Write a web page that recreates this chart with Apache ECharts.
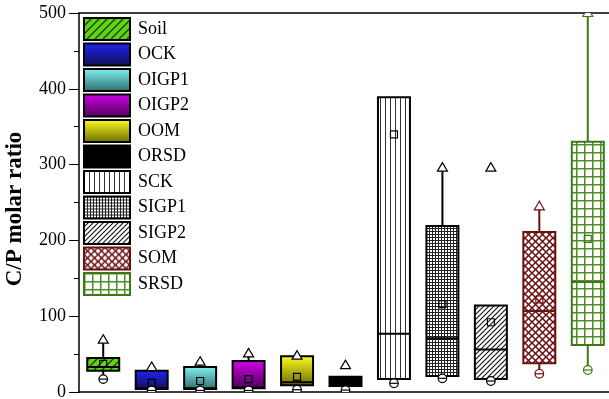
<!DOCTYPE html>
<html>
<head>
<meta charset="utf-8">
<script src="https://cdn.jsdelivr.net/npm/echarts@6/dist/echarts.min.js"></script>
<style>
  html, body { margin: 0; padding: 0; background: #fff; }
  #chart { width: 609px; height: 399px; }
</style>
</head>
<body>
<div id="chart"></div>
<script>
// C/P molar ratio per sample group: box statistics
const categories  = ['Soil', 'OCK', 'OIGP1', 'OIGP2', 'OOM', 'ORSD', 'SCK', 'SIGP1', 'SIGP2', 'SOM', 'SRSD'];
const whiskerLow  = [17, 2, 2, 2, 3, 2.5, 12, 18, 14.5, 24, 29];
const q1          = [28, 4, 4, 5, 9, 8, 17, 21, 17, 38, 62];
const median      = [33, 5, 5, 6, 13, 13.5, 77, 71, 56, 107, 145];
const q3          = [45, 28, 33, 41, 47, 20, 389, 219, 114, 211, 330];
const whiskerHigh = [69, 33, 40, 51, 47, 20, 389, 296, 114, 245, 500];
const meanVal     = [37, 12, 14.5, 17, 20, 14, 340, 116, 92, 122, 202];
const minVal      = [17, 2, 2, 2, 3, 2.5, 11.5, 18, 14.5, 24, 29];
const maxVal      = [69, 33, 40, 51, 48, 35.5, null, 296, 296, 245, 500];
const yTicks      = [0, 100, 200, 300, 400, 500];

const SERIF = "'Liberation Serif', 'Times New Roman', serif";

// ---- fill patterns -------------------------------------------------------
function tile(w, h, draw) {
  const c = document.createElement('canvas');
  c.width = w; c.height = h;
  draw(c.getContext('2d'), w, h);
  return { image: c, repeat: 'repeat' };
}
function diagLines(ctx, s, color, lw, dir) {
  ctx.strokeStyle = color; ctx.lineWidth = lw;
  ctx.beginPath();
  if (dir > 0) { // "/"
    ctx.moveTo(0, s); ctx.lineTo(s, 0);
    ctx.moveTo(-2, 2); ctx.lineTo(2, -2);
    ctx.moveTo(s - 2, s + 2); ctx.lineTo(s + 2, s - 2);
  } else {       // "\"
    ctx.moveTo(0, 0); ctx.lineTo(s, s);
    ctx.moveTo(s - 2, -2); ctx.lineTo(s + 2, 2);
    ctx.moveTo(-2, s - 2); ctx.lineTo(2, s + 2);
  }
  ctx.stroke();
}
const soilFill = tile(8, 8, (ctx, w, h) => {
  ctx.fillStyle = '#5fd414'; ctx.fillRect(0, 0, w, h);
  diagLines(ctx, 8, '#1f3a08', 1.3, 1);
});
const sckFill = tile(5, 5, (ctx, w, h) => {
  ctx.fillStyle = '#fff'; ctx.fillRect(0, 0, w, h);
  ctx.fillStyle = '#333'; ctx.fillRect(0, 0, 1, h);
});
const sigp1Fill = tile(3, 3, (ctx, w, h) => {
  ctx.fillStyle = '#fff'; ctx.fillRect(0, 0, w, h);
  ctx.fillStyle = '#222'; ctx.fillRect(0, 0, w, 1); ctx.fillRect(0, 0, 1, h);
});
const sigp2Fill = tile(5, 5, (ctx, w, h) => {
  ctx.fillStyle = '#fff'; ctx.fillRect(0, 0, w, h);
  diagLines(ctx, 5, '#111', 1.1, 1);
});
const somFill = tile(7, 7, (ctx, w, h) => {
  ctx.fillStyle = '#fff'; ctx.fillRect(0, 0, w, h);
  diagLines(ctx, 7, '#6a1010', 1.5, 1);
  diagLines(ctx, 7, '#6a1010', 1.5, -1);
});
const srsdFill = tile(8, 8, (ctx, w, h) => {
  ctx.fillStyle = '#fff'; ctx.fillRect(0, 0, w, h);
  ctx.fillStyle = '#4f8f28'; ctx.fillRect(0, 0, w, 1.5); ctx.fillRect(0, 0, 1.5, h);
});
function vgrad(top, bottom) {
  return { type: 'linear', x: 0, y: 0, x2: 0, y2: 1,
           colorStops: [{ offset: 0, color: top }, { offset: 1, color: bottom }] };
}

// fill / outline per group
const fills = [
  soilFill,
  vgrad('#2323f5', '#0e0e55'),
  vgrad('#86f4f4', '#2b6b6b'),
  vgrad('#d400ea', '#4a0058'),
  vgrad('#ffff22', '#6a6a00'),
  '#000000',
  sckFill, sigp1Fill, sigp2Fill, somFill, srsdFill
];
const outlines = ['#000', '#000', '#000', '#000', '#000', '#000', '#000', '#000', '#000', '#6b0f0f', '#3c7a14'];

// ---- box renderer --------------------------------------------------------
function renderBox(params, api) {
  const i = api.value(0);
  const x = api.coord([i, 0])[0];
  const bw = api.size([1, 0])[0] * 0.66;
  const y = v => api.coord([i, v])[1];
  const wl = api.value(1), b1 = api.value(2), md = api.value(3), b3 = api.value(4),
        wh = api.value(5), mn = api.value(6), lo = api.value(7), hi = api.value(8);
  const col = outlines[i];
  const kids = [];
  kids.push({ type: 'line', shape: { x1: x, y1: y(b3), x2: x, y2: y(wh) },
              style: { stroke: col, lineWidth: 2 } });
  kids.push({ type: 'line', shape: { x1: x, y1: y(b1), x2: x, y2: y(wl) },
              style: { stroke: col, lineWidth: 2 } });
  kids.push({ type: 'rect', shape: { x: x - bw / 2, y: y(b3), width: bw, height: y(b1) - y(b3) },
              style: { fill: fills[i], stroke: col, lineWidth: 2 } });
  kids.push({ type: 'line', shape: { x1: x - bw / 2, y1: y(md), x2: x + bw / 2, y2: y(md) },
              style: { stroke: col, lineWidth: 2 } });
  if (!isNaN(mn)) {
    const ym = y(mn);
    kids.push({ type: 'rect', shape: { x: x - 3.5, y: ym - 3.5, width: 7, height: 7 },
                style: { fill: 'none', stroke: col, lineWidth: 1.2 } });
  }
  if (!isNaN(hi)) {
    const yh = y(hi);
    kids.push({ type: 'polygon', shape: { points: [[x, yh - 5], [x - 5, yh + 3.5], [x + 5, yh + 3.5]] },
                style: { fill: '#fff', stroke: col, lineWidth: 1.2 } });
  }
  if (!isNaN(lo)) {
    const yl = y(lo);
    kids.push({ type: 'circle', shape: { cx: x, cy: yl, r: 4.3 },
                style: { fill: '#fff', stroke: col, lineWidth: 1.2 } });
    kids.push({ type: 'line', shape: { x1: x - 4.3, y1: yl, x2: x + 4.3, y2: yl },
                style: { stroke: col, lineWidth: 1.2 } });
  }
  return { type: 'group', children: kids };
}

const series = categories.map((name, i) => ({
  name: name,
  type: 'custom',
  clip: true,
  renderItem: renderBox,
  encode: { x: 0, y: [1, 2, 3, 4, 5, 6, 7, 8] },
  itemStyle: { color: fills[i], borderColor: outlines[i], borderWidth: 2 },
  data: [[i, whiskerLow[i], q1[i], median[i], q3[i], whiskerHigh[i], meanVal[i], minVal[i],
          maxVal[i] === null ? '-' : maxVal[i]]]
}));

const chart = echarts.init(document.getElementById('chart'), null, { renderer: 'canvas' });
chart.setOption({
  animation: false,
  backgroundColor: '#fff',
  grid: { left: 79, top: 13, width: 533, height: 379, outerBoundsMode: 'none', containLabel: false },
  legend: {
    data: categories,
    orient: 'vertical',
    left: 78, top: 12,
    icon: 'rect',
    itemWidth: 46, itemHeight: 22, itemGap: 1.5,
    selectedMode: false,
    itemStyle: { borderWidth: 2 },
    textStyle: { fontFamily: SERIF, fontSize: 18, lineHeight: 20, color: '#000', padding: [0, 0, 0, 3] }
  },
  xAxis: [{
    type: 'category',
    data: categories,
    position: 'bottom',
    axisLine: { lineStyle: { color: '#000', width: 1.5 } },
    axisTick: { alignWithLabel: true, length: 4, lineStyle: { color: '#000' } },
    axisLabel: { show: false },
    splitLine: { show: false }
  }, {
    type: 'category',
    data: categories,
    position: 'top',
    axisLine: { lineStyle: { color: '#000', width: 1.5 } },
    axisTick: { alignWithLabel: true, inside: true, length: 3, lineStyle: { color: '#888' } },
    axisLabel: { show: false }
  }],
  yAxis: {
    type: 'value',
    min: yTicks[0], max: yTicks[yTicks.length - 1], interval: 100,
    name: 'C/P molar ratio',
    nameLocation: 'middle',
    nameGap: 52,
    nameTextStyle: { fontFamily: SERIF, fontSize: 23, fontWeight: 'bold', color: '#000', padding: [0, 13, 0, 0] },
    axisLine: { show: true, lineStyle: { color: '#000', width: 1.5 } },
    axisTick: { show: true, length: 10, lineStyle: { color: '#000' } },
    minorTick: { show: true, splitNumber: 2, length: 5, lineStyle: { color: '#000' } },
    axisLabel: { fontFamily: SERIF, fontSize: 18, color: '#000', margin: 13 },
    splitLine: { show: false }
  },
  series: series
});
</script>
</body>
</html>
